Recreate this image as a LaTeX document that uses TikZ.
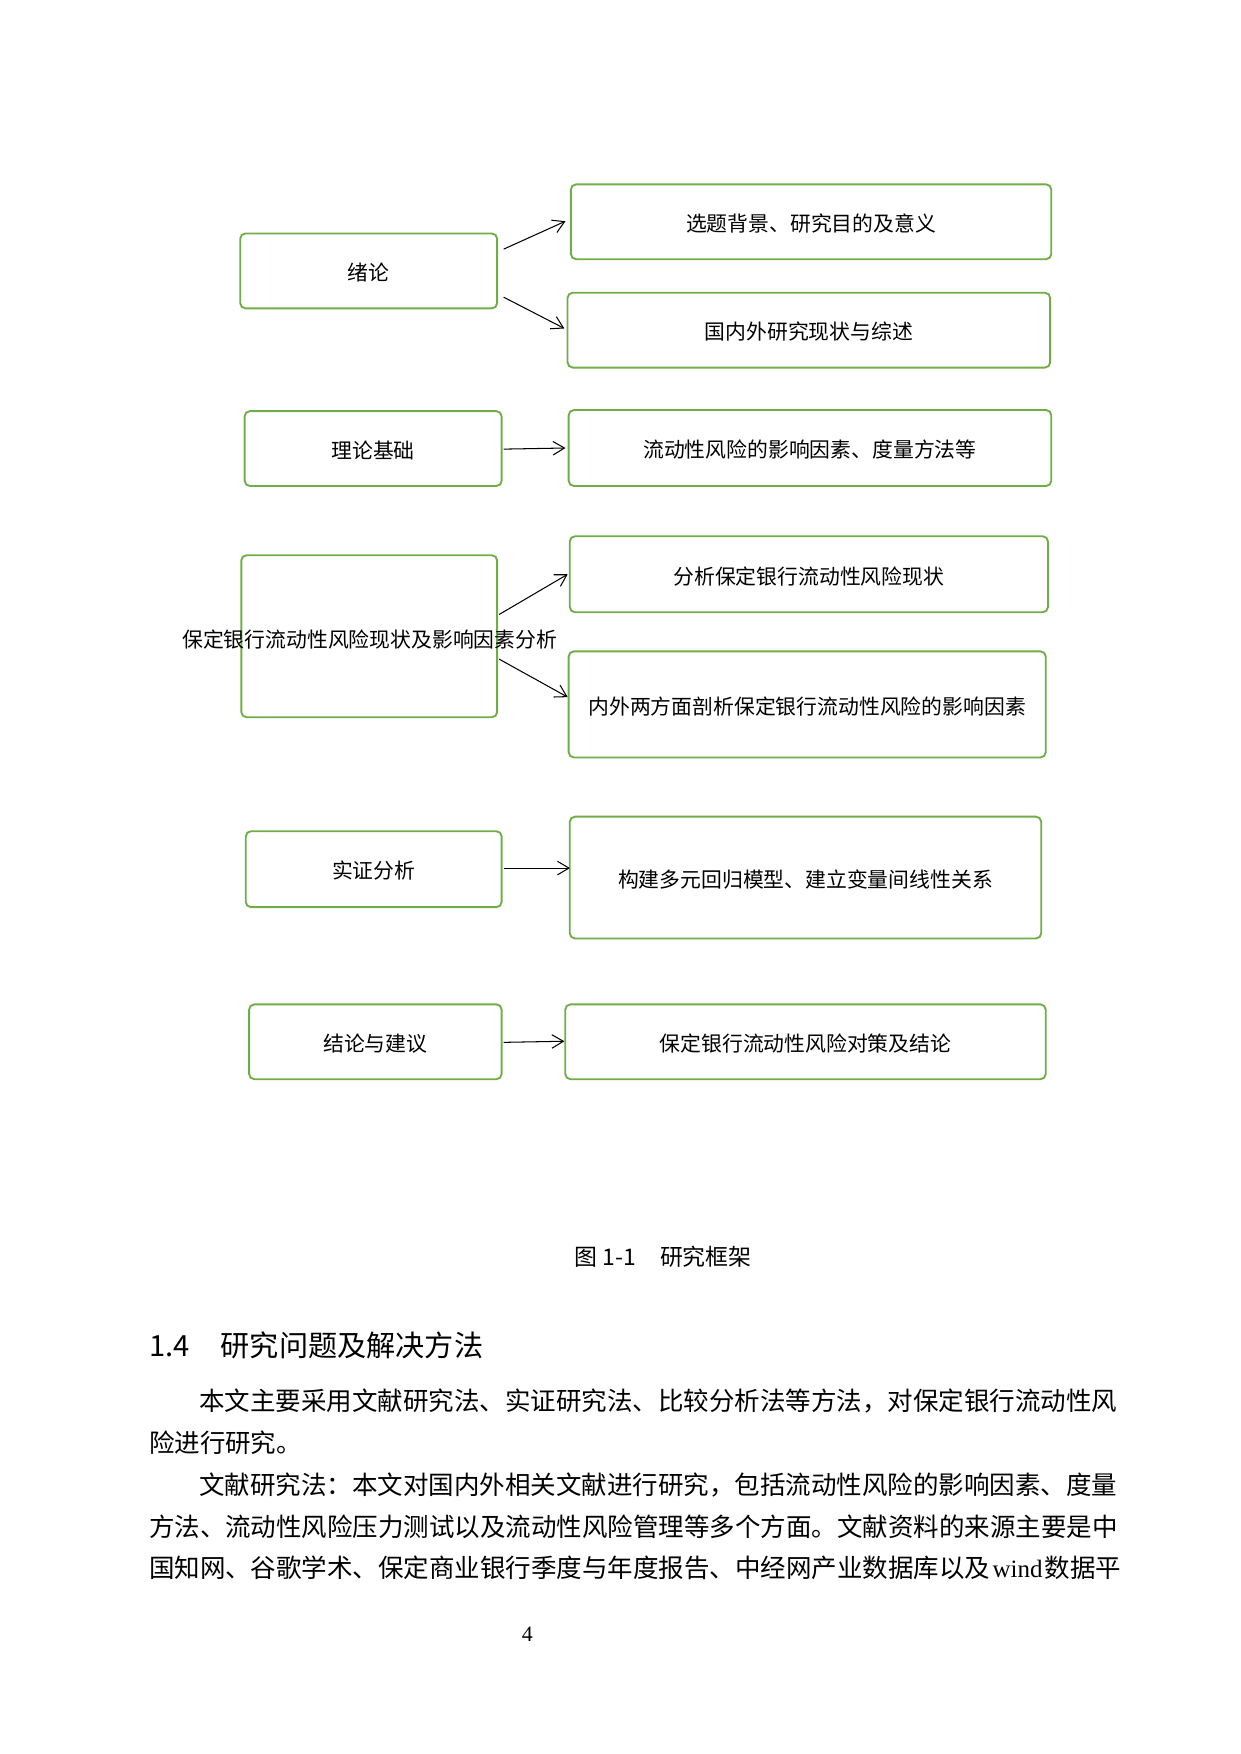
\documentclass[tikz,border=0pt]{standalone}
\usepackage{fontspec}
\setmainfont{Liberation Serif}
\newfontfamily\cjk{Noto Sans CJK SC}
\usetikzlibrary{arrows.meta}
\definecolor{boxgreen}{RGB}{112,173,71}

\begin{document}
\begin{tikzpicture}[x=0.5363pt,y=-0.5363pt,
    box/.style 2 args={draw=boxgreen,line width=0.9pt,rounded corners=2.5pt,minimum width=#1*0.5363pt,minimum height=#2*0.5363pt,inner sep=0pt,text height=9.4pt,text depth=0pt,font=\cjk\fontsize{10pt}{12pt}\selectfont},
    arr/.style={-{Straight Barb[length=5.5pt,width=6.5pt]},line width=0.5pt,black},
    body/.style={anchor=west,inner sep=0pt,font=\cjk\fontsize{12.24pt}{14pt}\selectfont}]
        \useasboundingbox (0,0) rectangle (1110,1570);
        % left column
        \node[box={230}{67}] (xulun) at (330,242.5) {绪论};
        \node[box={230}{67}] (lilun) at (334,401.5) {理论基础};
        \node[box={229}{145}] (xianzhuang) at (330.5,569.5) {};
        \node[font=\cjk\fontsize{10pt}{12pt}\selectfont] (xianzhuangtxt) at (331,572.5) {保定银行流动性风险现状及影响因素分析};
        \node[box={229}{68}] (shizheng) at (334.5,778) {实证分析};
        \node[box={226}{67}] (jielun) at (336,932.5) {结论与建议};
        % right column
        \node[box={430}{67}] (xuanti) at (726,198.5) {选题背景、研究目的及意义};
        \node[box={432}{67}] (guonei) at (724,295.5) {国内外研究现状与综述};
        \node[box={432}{68}] (yingxiang) at (725,401) {流动性风险的影响因素、度量方法等};
        \node[box={428}{68}] (fenxi) at (724,514) {分析保定银行流动性风险现状};
        \node[box={427}{95}] (neiwai) at (722.5,630.5) {内外两方面剖析保定银行流动性风险的影响因素};
        \node[box={422}{109}] (goujian) at (721,785.5) {构建多元回归模型、建立变量间线性关系};
        \node[box={430}{67}] (duice) at (721,932.5) {保定银行流动性风险对策及结论};
        % arrows
        \draw[arr] ([shift={(5,-19.5)}]xulun.east) -- ([shift={(-4,-0.5)}]xuanti.west);
        \draw[arr] ([shift={(5,23.5)}]xulun.east) -- ([shift={(-2,-1.5)}]guonei.west);
        \draw[arr] ([shift={(1,0.5)}]lilun.east) -- ([shift={(-2,0)}]yingxiang.west);
        \draw[arr] ([shift={(1,-19.5)}]xianzhuang.east) -- ([shift={(-1,0)}]fenxi.west);
        \draw[arr] ([shift={(1,20.5)}]xianzhuang.east) -- ([shift={(0,-6.5)}]neiwai.west);
        \draw[arr] ([shift={(1,-1)}]shizheng.east) -- ([shift={(1,-8.5)}]goujian.west);
        \draw[arr] ([shift={(1,0.5)}]jielun.east) -- ([shift={(0,-0.5)}]duice.west);
        % caption and text
        \node[anchor=west,inner sep=0pt,font=\cjk\fontsize{11pt}{13pt}\selectfont] (caption) at (514,1124.5) {图 1-1\hspace{11.5pt}研究框架};
        \node[anchor=west,inner sep=0pt,font=\cjk\fontsize{14pt}{16pt}\selectfont] (heading) at (133,1204.5) {1.4\hspace{15pt}研究问题及解决方法};
        \node[body] (para1) at (178,1254.5) {本文主要采用文献研究法、实证研究法、比较分析法等方法，对保定银行流动性风};
        \node[body] (para2) at (133,1291.5) {险进行研究。};
        \node[body] (para3) at (178,1329.5) {文献研究法：本文对国内外相关文献进行研究，包括流动性风险的影响因素、度量};
        \node[body] (para4) at (133,1366.5) {方法、流动性风险压力测试以及流动性风险管理等多个方面。文献资料的来源主要是中};
        \node[body] (para5) at (133,1403.5) {国知网、谷歌学术、保定商业银行季度与年度报告、中经网产业数据库以及\hspace{1pt}{\rmfamily\fontsize{12pt}{14pt}\selectfont wind}\hspace{1pt}数据平};
        \node[font=\fontsize{10.5pt}{12pt}\selectfont] (pagenum) at (472,1463) {4};
      \end{tikzpicture}
\end{document}
